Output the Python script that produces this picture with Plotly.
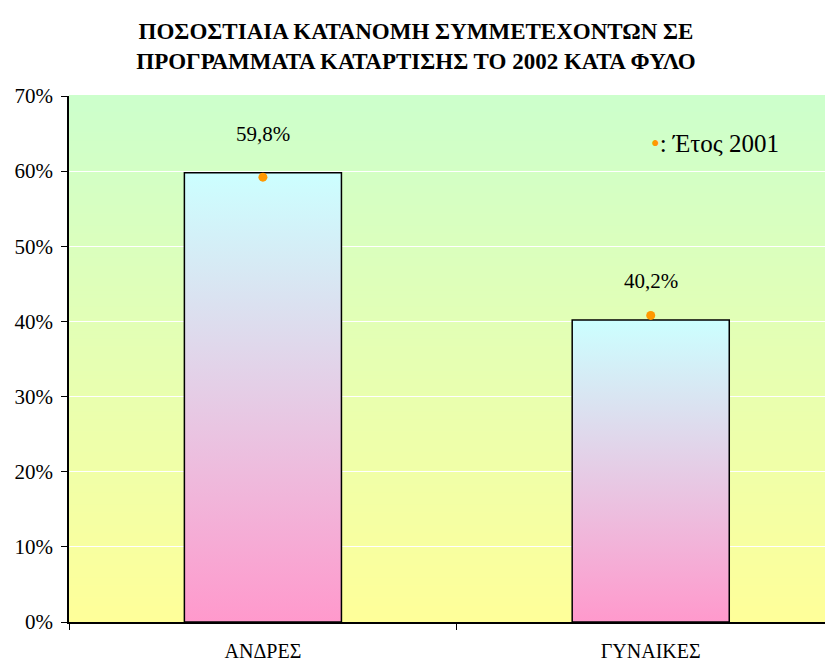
import plotly.graph_objects as go

# ---- data ----
categories = ["ΑΝΔΡΕΣ", "ΓΥΝΑΙΚΕΣ"]
share_2002 = [59.8, 40.2]
share_2001 = [59.2, 40.8]
y_tick_values = [0, 10, 20, 30, 40, 50, 60, 70]
title_lines = [
    "ΠΟΣΟΣΤΙΑΙΑ ΚΑΤΑΝΟΜΗ ΣΥΜΜΕΤΕΧΟΝΤΩΝ ΣΕ",
    "ΠΡΟΓΡΑΜΜΑΤΑ ΚΑΤΑΡΤΙΣΗΣ ΤΟ 2002 ΚΑΤΑ ΦΥΛΟ",
]
legend_label = "Έτος 2001"

# ---- style ----
SERIF = "Times New Roman, Liberation Serif, Tinos, DejaVu Serif, serif"
BAR_W = 0.405
BG_TOP = (204, 255, 204)
BG_BOTTOM = (255, 255, 153)
DOT = "#FF9900"
W, H = 825, 653  # page adds an 8px body margin inside the 833x661 window

positions = list(range(len(categories)))

fig = go.Figure()

# bars with vertical gradient (pink bottom -> cyan top)
for pos, val in zip(positions, share_2002):
    x0, x1 = pos - BAR_W / 2, pos + BAR_W / 2
    fig.add_trace(go.Scatter(
        x=[x0, x0, x1, x1, x0],
        y=[0, val, val, 0, 0],
        mode="lines",
        fill="toself",
        fillgradient=dict(type="vertical",
                          colorscale=[[0, "#FF99CC"], [1, "#CCFFFF"]]),
        line=dict(color="black", width=1.5),
        showlegend=False,
        hoverinfo="skip",
    ))

# 2001 markers
fig.add_trace(go.Scatter(
    x=positions, y=share_2001, mode="markers",
    marker=dict(color=DOT, size=9, line=dict(width=0)),
    showlegend=False, name=legend_label,
))

# value labels
for pos, val in zip(positions, share_2002):
    fig.add_annotation(
        x=pos, y=val, xref="x", yref="y",
        text=f"{val:.1f}".replace(".", ",") + "%",
        showarrow=False, yanchor="middle", yshift=39,
        font=dict(family=SERIF, size=21, color="black"),
    )

# legend-like text
fig.add_annotation(
    x=0.759, y=0.9106, xref="paper", yref="paper",
    xanchor="left", yanchor="middle",
    text=f"<span style='color:{DOT}'>•</span>: {legend_label}",
    showarrow=False,
    font=dict(family=SERIF, size=25, color="black"),
)

# gradient background in plot area (below gridlines)
N = 130
shapes = []
for k in range(N):
    t = (k + 0.5) / N  # 0 bottom -> 1 top
    r, g, b = (round(BG_BOTTOM[i] + (BG_TOP[i] - BG_BOTTOM[i]) * t) for i in range(3))
    shapes.append(dict(
        type="rect", xref="x domain", yref="y domain",
        x0=0, x1=1, y0=k / N, y1=(k + 1) / N + 0.002,
        fillcolor=f"rgb({r},{g},{b})", line=dict(width=0), layer="below",
    ))

fig.update_layout(
    template="none",
    width=W, height=H,
    margin=dict(l=61, r=0, t=88, b=39, autoexpand=False),
    paper_bgcolor="white",
    plot_bgcolor="rgba(0,0,0,0)",
    font=dict(family=SERIF, color="black"),
    shapes=shapes,
    title=dict(
        text="<br>".join(title_lines),
        x=408 / W, xref="container", xanchor="center",
        y=1 - 31 / H, yref="container", yanchor="middle",
        font=dict(family=SERIF, size=23, color="black", weight="bold"),
    ),
    xaxis=dict(
        range=[-0.5, 1.47], automargin=False,
        tickvals=positions, ticktext=categories,
        ticks="", showline=True, linecolor="black", linewidth=2,
        showgrid=False, zeroline=False,
        ticklabelstandoff=10,
        tickfont=dict(family=SERIF, size=20, color="black"),
        minor=dict(tickvals=[-0.5, 0.5, 1.5], ticks="outside", ticklen=6,
                   tickcolor="black", tickwidth=1, showgrid=False),
    ),
    yaxis=dict(
        range=[0, 70], automargin=False,
        tickvals=y_tick_values,
        ticktext=[f"{v}%" for v in y_tick_values],
        ticks="outside", ticklen=6, tickcolor="black", tickwidth=1,
        showline=True, linecolor="black", linewidth=1.5,
        showgrid=True, gridcolor="white", gridwidth=1,
        zeroline=False,
        ticklabelstandoff=4,
        tickfont=dict(family=SERIF, size=21, color="black"),
    ),
)

fig.write_html("out.html")
